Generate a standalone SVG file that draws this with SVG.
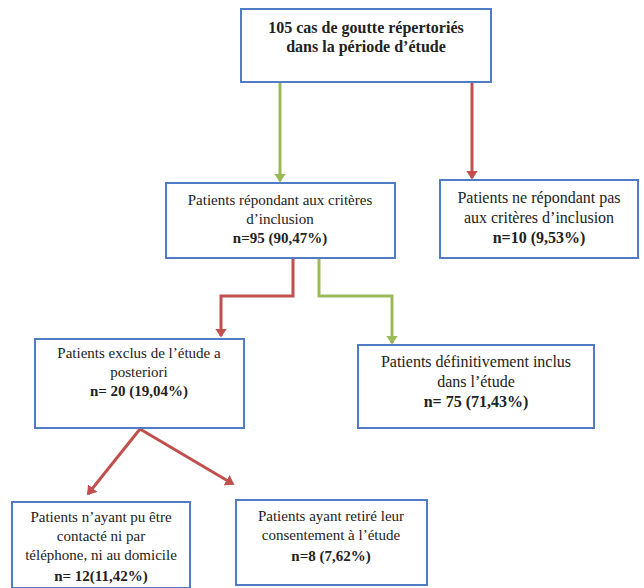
<svg xmlns="http://www.w3.org/2000/svg" width="644" height="588" viewBox="0 0 644 588">
<style>
.box{fill:#ffffff;stroke:#4f7cc4;stroke-width:2}
.t{font-size:15px;fill:#222;text-anchor:middle}
.b{font-weight:bold}
.lg{font-size:16px}
.g{fill:none;stroke:#9bbb59;stroke-width:3}
.r{fill:none;stroke:#c0504d;stroke-width:3}
</style>
<defs>
<marker id="ag" markerWidth="4" markerHeight="4" refX="2.5" refY="2" orient="auto" markerUnits="strokeWidth"><path d="M0,0 L3,2 L0,4 z" fill="#9bbb59"/></marker>
<marker id="ar" markerWidth="4" markerHeight="4" refX="2.5" refY="2" orient="auto" markerUnits="strokeWidth"><path d="M0,0 L3,2 L0,4 z" fill="#c0504d"/></marker>
</defs>
<rect width="644" height="588" fill="#ffffff"/>
<g id="connectors">
<path class="g" d="M280,83 V181" marker-end="url(#ag)"/>
<path class="r" d="M472,83 V178" marker-end="url(#ar)"/>
<path class="r" d="M293,258 V296 H221 V336" marker-end="url(#ar)"/>
<path class="g" d="M319,258 V296 H392 V343" marker-end="url(#ag)"/>
<path class="r" d="M140,429 L88,494" marker-end="url(#ar)"/>
<path class="r" d="M140,429 L233,484" marker-end="url(#ar)"/>
</g>
<g font-family="Liberation Serif, serif">
<g id="n1">
<rect class="box" x="241" y="9" width="250" height="73"/>
<text class="t b lg" x="366" y="33">105 cas de goutte répertoriés</text>
<text class="t b lg" x="366" y="52">dans la période d’étude</text>
</g>
<g id="n2">
<rect class="box" x="166" y="183" width="229" height="75"/>
<text class="t" x="280" y="205">Patients répondant aux critères</text>
<text class="t" x="280" y="224">d’inclusion</text>
<text class="t b" x="280" y="243">n=95 (90,47%)</text>
</g>
<g id="n3">
<rect class="box" x="440" y="180" width="198" height="78"/>
<text class="t lg" x="539" y="203">Patients ne répondant pas</text>
<text class="t lg" x="539" y="223">aux critères d’inclusion</text>
<text class="t b lg" x="539" y="243">n=10 (9,53%)</text>
</g>
<g id="n4">
<rect class="box" x="35" y="339" width="209" height="89"/>
<text class="t" x="139" y="358">Patients exclus de l’étude a</text>
<text class="t" x="139" y="377">posteriori</text>
<text class="t b" x="139" y="396">n= 20 (19,04%)</text>
</g>
<g id="n5">
<rect class="box" x="358" y="345" width="236" height="83"/>
<text class="t lg" x="476" y="367">Patients définitivement inclus</text>
<text class="t lg" x="476" y="387">dans l’étude</text>
<text class="t b lg" x="476" y="407">n= 75 (71,43%)</text>
</g>
<g id="n6">
<rect class="box" x="12" y="502" width="178" height="86"/>
<text class="t" x="101" y="522">Patients n’ayant pu être</text>
<text class="t" x="101" y="541">contacté ni par</text>
<text class="t" x="101" y="560">téléphone, ni au domicile</text>
<text class="t b" x="101" y="581">n= 12(11,42%)</text>
</g>
<g id="n7">
<rect class="box" x="236" y="500" width="191" height="85"/>
<text class="t" x="331" y="521">Patients ayant retiré leur</text>
<text class="t" x="331" y="540">consentement à l’étude</text>
<text class="t b" x="331" y="561">n=8 (7,62%)</text>
</g>
</g>
</svg>
